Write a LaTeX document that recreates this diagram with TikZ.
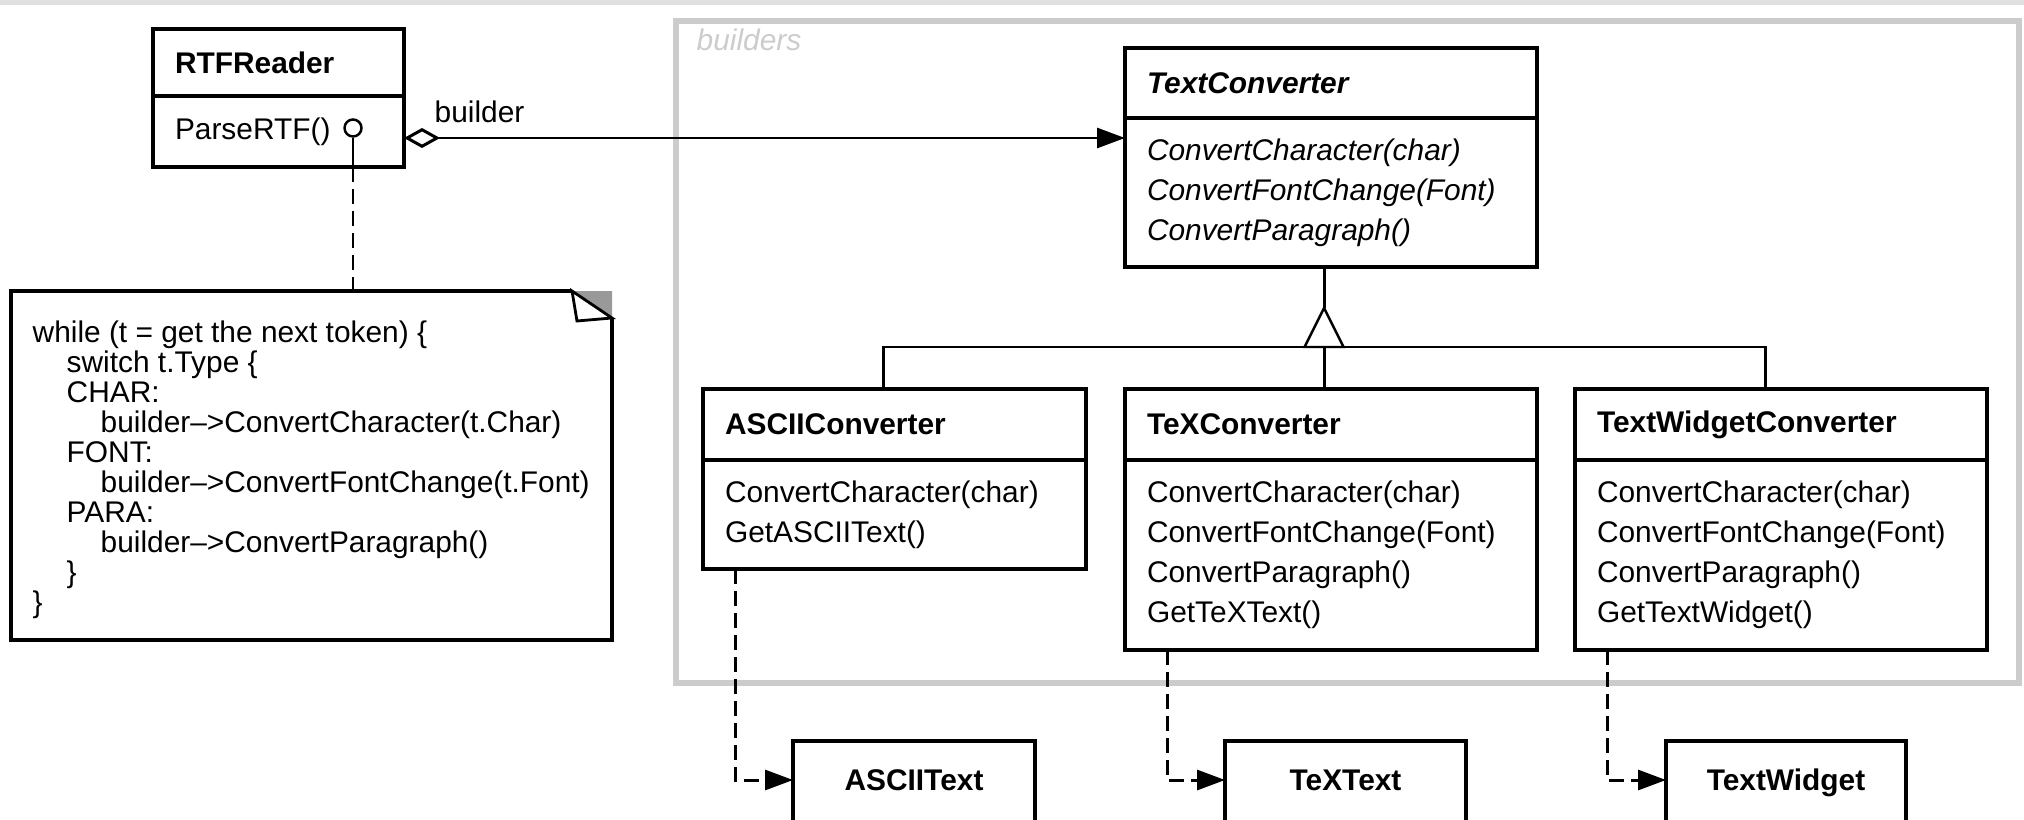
\documentclass[tikz,border=0pt]{standalone}
\usepackage{fontspec}
\setmainfont{Liberation Sans}
\usetikzlibrary{positioning,arrows.meta}

\newcommand{\umlsize}{\fontsize{8.5}{11.4}\selectfont}

\tikzset{
  box/.style={draw, line width=0.95pt, outer sep=0pt, inner xsep=0.22cm, inner ysep=0pt, align=left},
  classname/.style={box, anchor=north west, font=\umlsize\bfseries},
  classbody/.style={box, font=\umlsize},
  leafname/.style={inner sep=0pt, text height=0.215cm, text depth=0pt, font=\umlsize\bfseries},
  conn/.style={line width=0.85pt},
  dep/.style={conn, dash pattern=on 0.15cm off 0.07cm, -{Triangle[length=0.28cm,width=0.2cm]}},
}

\begin{document}
\begin{tikzpicture}[font=\umlsize]
  \useasboundingbox (0,0) rectangle (20.24,-8.20);
  \clip (0,0) rectangle (20.24,-8.20);
  \fill[black!12] (0,0) rectangle (20.24,-0.05);

  % the builders package
  \node[draw=black!20, line width=1.7pt, minimum width=13.43cm, minimum height=6.62cm, anchor=north west, inner sep=0pt] (pkg) at (6.73,-0.18) {};
  \node[anchor=west, inner sep=0pt, text=black!20, font=\umlsize\itshape] (pkgname) at (6.96,-0.40) {builders};

  % director
  \node[classname, text width=2.07cm, minimum height=0.67cm] (rtf) at (1.53,-0.29) {RTFReader};
  \node[classbody, below=0pt of rtf, text width=2.07cm, minimum height=0.71cm] (rtfbody) {ParseRTF()};
  \node[draw, circle, line width=0.7pt, minimum size=0.17cm, inner sep=0pt] (hook) at (3.53,-1.28) {};

  % abstract builder
  \node[classname, text width=3.68cm, minimum height=0.70cm, font=\umlsize\bfseries\itshape] (tc) at (11.25,-0.48) {TextConverter};
  \node[classbody, below=0pt of tc, text width=3.68cm, minimum height=1.49cm, font=\umlsize\itshape] (tcbody)
    {ConvertCharacter(char)\\ConvertFontChange(Font)\\ConvertParagraph()};

  % concrete builders
  \node[classname, text width=3.39cm, minimum height=0.71cm] (ascii) at (7.03,-3.89) {ASCIIConverter};
  \node[classbody, below=0pt of ascii, text width=3.39cm, minimum height=1.09cm] (asciibody)
    {ConvertCharacter(char)\\GetASCIIText()};
  \node[classname, text width=3.68cm, minimum height=0.71cm] (tex) at (11.25,-3.89) {TeXConverter};
  \node[classbody, below=0pt of tex, text width=3.68cm, minimum height=1.90cm] (texbody)
    {ConvertCharacter(char)\\ConvertFontChange(Font)\\ConvertParagraph()\\GetTeXText()};
  \node[classname, text width=3.68cm, minimum height=0.71cm] (tw) at (15.75,-3.89) {TextWidgetConverter};
  \node[classbody, below=0pt of tw, text width=3.68cm, minimum height=1.90cm] (twbody)
    {ConvertCharacter(char)\\ConvertFontChange(Font)\\ConvertParagraph()\\GetTextWidget()};

  % products, cut off by the lower edge
  \node[box, anchor=north west, minimum width=2.42cm, minimum height=1.2cm] (asciitextbox) at (7.93,-7.41) {};
  \node[leafname] (asciitext) at ([yshift=-0.39cm]asciitextbox.north) {ASCIIText};
  \node[box, anchor=north west, minimum width=2.41cm, minimum height=1.2cm] (textextbox) at (12.25,-7.41) {};
  \node[leafname] (textext) at ([yshift=-0.39cm]textextbox.north) {TeXText};
  \node[box, anchor=north west, minimum width=2.40cm, minimum height=1.2cm] (twtextbox) at (16.66,-7.41) {};
  \node[leafname] (twtext) at ([yshift=-0.39cm]twtextbox.north) {TextWidget};

  % note with the code of ParseRTF
  \node[anchor=north west, minimum width=6.01cm, minimum height=3.49cm, inner sep=0pt, outer sep=0pt] (note) at (0.11,-2.91) {};
  \fill[black!40] ([xshift=-0.40cm]note.north east) -- (note.north east) -- ([yshift=-0.27cm]note.north east) -- cycle;
  \draw[line width=0.95pt] ([xshift=-0.40cm]note.north east) -- (note.north west) -- (note.south west) -- (note.south east) -- ([yshift=-0.27cm]note.north east);
  \draw[line width=0.8pt, fill=white] ([xshift=-0.40cm]note.north east) -- ([xshift=-0.35cm,yshift=-0.30cm]note.north east) -- ([yshift=-0.27cm]note.north east) -- cycle;
  \foreach \i/\ind/\txt in {0/0/{while (t = get the next token) \{}, 1/1/{switch t.Type \{}, 2/1/{CHAR:},
      3/2/{builder--{}>ConvertCharacter(t.Char)}, 4/1/{FONT:}, 5/2/{builder--{}>ConvertFontChange(t.Font)},
      6/1/{PARA:}, 7/2/{builder--{}>ConvertParagraph()}, 8/1/{\}}, 9/0/{\}}}
    \node[anchor=base west, inner sep=0pt] (code\i) at ([xshift=0.21cm+\ind*0.34cm, yshift=-0.51cm-\i*0.30cm]note.north west) {\txt};
  \draw[conn] (hook) -- (hook |- rtfbody.south);
  \draw[conn, dash pattern=on 0.15cm off 0.07cm] (hook |- rtfbody.south) -- (hook |- note.north);

  % builder aggregation
  \coordinate (aggstart) at ([yshift=-0.065cm]rtfbody.east);
  \draw[conn, {Diamond[open,length=0.36cm,width=0.2cm]}-{Triangle[length=0.28cm,width=0.2cm]}] (aggstart) -- (aggstart -| tcbody.west);
  \node[anchor=west, inner sep=0pt] (role) at (4.34,-1.12) {builder};

  % inheritance
  \coordinate (fork) at (13.24,-3.47);
  \draw[conn] (fork |- tcbody.south) -- ([yshift=0.39cm]fork);
  \draw[line width=0.7pt, fill=white] (fork) ++(-0.195,0) -- ++(0.195,0.39) -- ++(0.195,-0.39) -- cycle;
  \draw[conn] ([xshift=1.80cm]ascii.north west) |- (fork) -| ([xshift=1.90cm]tw.north west);
  \draw[conn] (fork) -- (fork |- tex.north);

  % builders create the products
  \draw[dep] ([xshift=0.32cm]asciibody.south west) |- (asciitext -| asciitextbox.west);
  \draw[dep] ([xshift=0.42cm]texbody.south west) |- (textext -| textextbox.west);
  \draw[dep] ([xshift=0.32cm]twbody.south west) |- (twtext -| twtextbox.west);
\end{tikzpicture}
\end{document}
